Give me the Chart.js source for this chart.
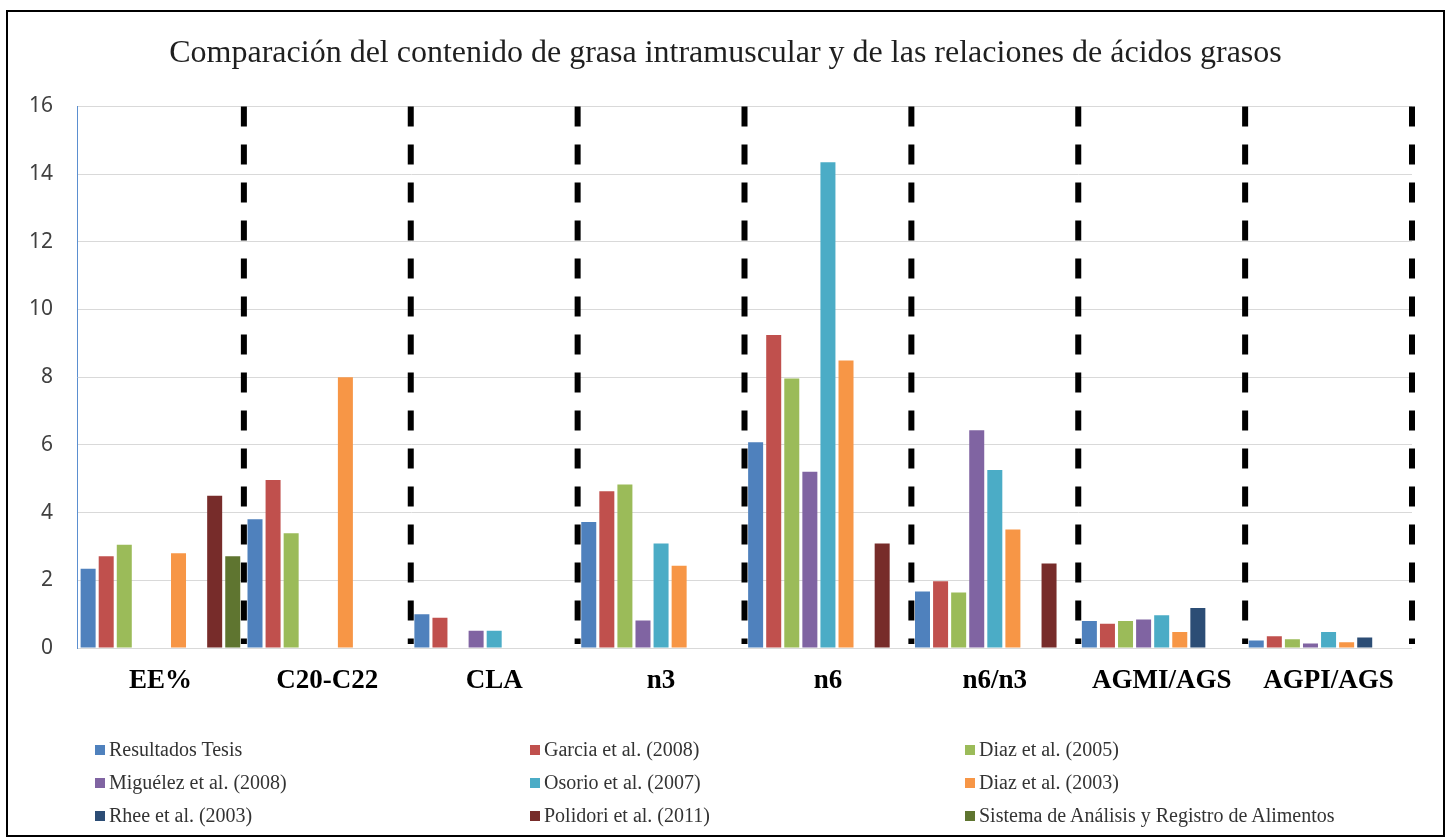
<!DOCTYPE html>
<html>
<head>
<meta charset="utf-8">
<script src="https://cdn.jsdelivr.net/npm/chart.js@4"></script>
<style>
    body { margin: 0; background: #fff; }
    #wrap { position: absolute; left: 6px; top: 10px; width: 1435px; height: 823px; border: 2px solid #000; }
    #legend { position: absolute; left: 87px; top: 726px; width: 1340px; display: grid;
              grid-template-columns: 435px 435px 435px; row-gap: 10px;
              font-family: "Liberation Serif", serif; font-size: 20px; color: #333; }
    #legend div { height: 23px; line-height: 23px; white-space: nowrap; }
    #legend span { display: inline-block; width: 10px; height: 10px; margin-right: 4px; vertical-align: 1px; }
</style>
</head>
<body>
<div id="wrap">
    <canvas id="myChart" width="1435" height="823"></canvas>
    <div id="legend"></div>
</div>
<script>
// categorias del eje x
const categories = ['EE%', 'C20-C22', 'CLA', 'n3', 'n6', 'n6/n3', 'AGMI/AGS', 'AGPI/AGS'];

// una serie por autor, mismo orden que las categorias
const resultadosTesis = [2.34, 3.80, 1.00, 3.72, 6.08, 1.67, 0.80, 0.22];
const garcia2008      = [2.71, 4.96, 0.89, 4.63, 9.25, 1.97, 0.72, 0.35];
const diaz2005        = [3.05, 3.39, null, 4.83, 7.96, 1.64, 0.80, 0.26];
const miguelez2008    = [null, null, 0.51, 0.81, 5.21, 6.43, 0.84, 0.13];
const osorio2007      = [null, null, 0.51, 3.09, 14.35, 5.26, 0.97, 0.47];
const diaz2003        = [2.80, 8.00, null, 2.43, 8.49, 3.50, 0.47, 0.17];
const rhee2003        = [null, null, null, null, null, null, 1.18, 0.31];
const polidori2011    = [4.50, null, null, null, 3.09, 2.50, null, null];
const sistemaAnalisis = [2.71, null, null, null, null, null, null, null];

const seriesNames = ['Resultados Tesis', 'Garcia et al. (2008)', 'Diaz et al. (2005)',
    'Miguélez et al. (2008)', 'Osorio et al. (2007)', 'Diaz et al. (2003)',
    'Rhee et al. (2003)', 'Polidori et al. (2011)', 'Sistema de Análisis y Registro de Alimentos'];
const seriesValues = [resultadosTesis, garcia2008, diaz2005, miguelez2008, osorio2007,
    diaz2003, rhee2003, polidori2011, sistemaAnalisis];
const seriesColors = ['#4f81bd', '#c0504d', '#9bbb59', '#8064a2', '#4bacc6',
    '#f79646', '#2c4d75', '#772c2a', '#5f7530'];

const yTicks = [0, 2, 4, 6, 8, 10, 12, 14, 16];

// lineas negras discontinuas entre grupos
const dividerPlugin = {
    id: 'dividers',
    afterDatasetsDraw(chart) {
        const ctx = chart.ctx;
        const x = chart.scales.x;
        const area = chart.chartArea;
        const half = (x.getPixelForValue(1) - x.getPixelForValue(0)) / 2;
        ctx.save();
        ctx.strokeStyle = '#000';
        ctx.lineWidth = 6;
        ctx.setLineDash([20, 18]);
        for (let i = 0; i < categories.length; i++) {
            const px = x.getPixelForValue(i) + half;
            ctx.beginPath();
            ctx.moveTo(px, area.top);
            ctx.lineTo(px, area.bottom - 4);
            ctx.stroke();
        }
        ctx.restore();
    }
};

class ComparisonChart {
    constructor() {
        this.ctx = document.getElementById('myChart').getContext('2d');
        this.setChart();
        this.setLegend();
    }

    getDatasets() {
        return seriesNames.map((name, i) => ({
            label: name,
            data: seriesValues[i],
            backgroundColor: seriesColors[i],
            categoryPercentage: 0.975,
            barPercentage: 0.83
        }));
    }

    getChartObject() {
        return {
            type: 'bar',
            data: { labels: categories, datasets: this.getDatasets() },
            options: {
                responsive: false,
                animation: false,
                devicePixelRatio: 1,
                layout: { padding: 0 },
                plugins: {
                    legend: { display: false },
                    tooltip: { enabled: false },
                    title: {
                        display: true,
                        text: 'Comparación del contenido de grasa intramuscular y de las relaciones de ácidos grasos',
                        color: '#1f1f1f',
                        font: { family: 'Liberation Serif', size: 32, weight: 'normal' },
                        padding: { top: 22, bottom: 34 }
                    }
                },
                scales: {
                    x: {
                        grid: { display: false, drawTicks: false },
                        border: { display: false },
                        ticks: {
                            color: '#000',
                            padding: 17,
                            font: { family: 'Liberation Serif', size: 27, weight: 'bold' }
                        },
                        afterFit: s => { s.height = 187; }
                    },
                    y: {
                        min: 0,
                        max: 16,
                        afterBuildTicks: s => { s.ticks = yTicks.map(v => ({ value: v })); },
                        grid: { color: '#d9d9d9', lineWidth: 1, drawTicks: false },
                        border: { display: true, color: '#5b8fd0', width: 1 },
                        ticks: {
                            color: '#404040',
                            padding: 24,
                            font: { family: 'Noto Sans', size: 21 }
                        },
                        afterFit: s => { s.width = 69; }
                    },
                    // eje vacio a la derecha, solo deja el margen
                    yRight: {
                        position: 'right',
                        min: 0,
                        max: 16,
                        grid: { display: false, drawTicks: false },
                        border: { display: false },
                        ticks: { display: false },
                        afterFit: s => { s.width = 31; }
                    }
                }
            },
            plugins: [dividerPlugin]
        };
    }

    setChart() {
        new Chart(this.ctx, this.getChartObject());
    }

    setLegend() {
        const box = document.getElementById('legend');
        seriesNames.forEach((name, i) => {
            const item = document.createElement('div');
            const mark = document.createElement('span');
            mark.style.background = seriesColors[i];
            item.appendChild(mark);
            item.appendChild(document.createTextNode(name));
            box.appendChild(item);
        });
    }
}

new ComparisonChart();
</script>
</body>
</html>
